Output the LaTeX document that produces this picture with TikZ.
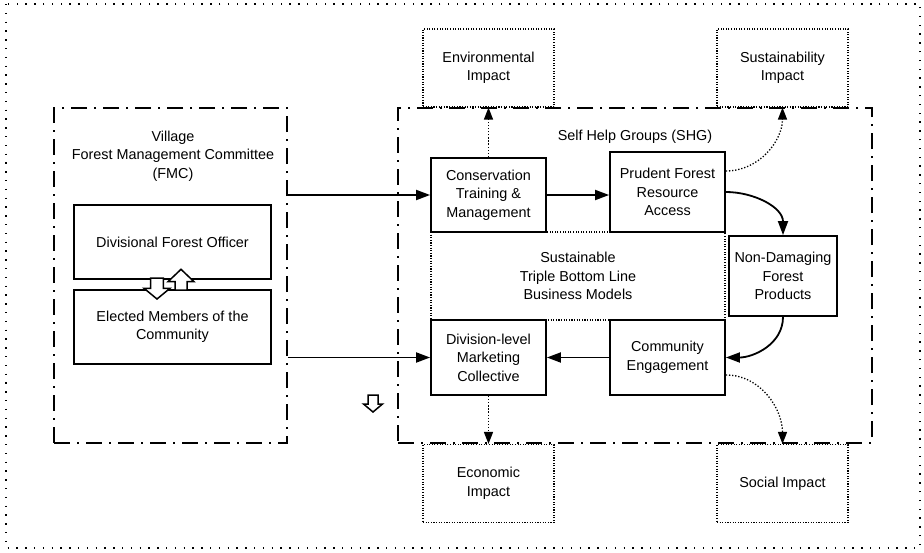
\documentclass[tikz,border=0pt]{standalone}
\usepackage{fontspec}
\setmainfont{Liberation Sans}
\usetikzlibrary{arrows.meta}
\begin{document}
\begin{tikzpicture}[x=1pt,y=-1pt,
 font=\fontsize{14.4}{18.5}\selectfont,
 box/.style={draw,line width=1.8pt,align=center,inner sep=0pt,fill=white},
 impact/.style={draw,line width=1.1pt,dash pattern=on 1.1pt off 1.5pt,align=center,inner sep=0pt,minimum width=131pt,minimum height=78pt},
 group/.style={draw,line width=1.5pt,dash pattern=on 16pt off 7pt on 2pt off 7pt,inner sep=0pt},
 arr/.style={line width=1.8pt,-{Triangle[length=14pt,width=10pt]}},
 darr/.style={line width=1.3pt,dash pattern=on 1.3pt off 1.8pt,-{Triangle[length=12pt,width=9pt]}},
 blockarrow/.style={draw,fill=white,line width=1.5pt,line join=miter}
]
\useasboundingbox (0,0) rectangle (924,552);
\draw[line width=1.4pt,dash pattern=on 1.4pt off 7.4pt] (6,4) rectangle (920,548);

% groups
\node[group,minimum width=233pt,minimum height=335pt] (fmc) at (170.5,275.5) {};
\node[group,minimum width=474pt,minimum height=335pt] (shg) at (635,275.5) {};
\node[align=center] (fmclabel) at (173,156) {Village\\Forest Management Committee\\(FMC)};
\node (shglabel) at (635,137) {Self Help Groups (SHG)};

% impacts
\node[impact] (env) at (488.5,68) {Environmental\\Impact};
\node[impact] (sus) at (782.5,68) {Sustainability\\Impact};
\node[impact] (eco) at (488.5,483.5) {Economic\\Impact};
\node[impact] (soc) at (782.5,483.5) {Social Impact};

% triple bottom line
\node[draw,line width=1.1pt,dash pattern=on 1.1pt off 1.5pt,align=center,minimum width=294pt,minimum height=88pt,inner sep=0pt] (tbl) at (578,276) {Sustainable\\Triple Bottom Line\\Business Models};

% process boxes
\node[box,minimum width=115pt,minimum height=74pt] (cons) at (488.5,195) {Conservation\\Training \&\\Management};
\node[box,minimum width=115pt,minimum height=80pt] (prud) at (667.5,192) {Prudent Forest\\Resource\\Access};
\node[box,minimum width=108pt,minimum height=80pt] (ndfp) at (783,276) {Non-Damaging\\Forest\\Products};
\node[box,minimum width=115pt,minimum height=75pt] (div) at (488.5,357.5) {Division-level\\Marketing\\Collective};
\node[box,minimum width=115pt,minimum height=75pt] (comm) at (667.5,357.5) {Community\\Engagement};

% FMC boxes
\node[box,minimum width=197pt,minimum height=74pt] (dfo) at (172.5,242) {Divisional Forest Officer};
\node[box,minimum width=197pt,minimum height=74pt] (elec) at (172.5,327) {Elected Members of the\\Community};

% block arrows
\draw[blockarrow] (150.7,278) -- (163.3,278) -- (163.3,288.3) -- (170,288.3) -- (157,299) -- (144,288.3) -- (150.7,288.3) -- cycle;
\draw[blockarrow] (175,290) -- (187,290) -- (187,281.7) -- (194,281.7) -- (181,269.3) -- (168,281.7) -- (175,281.7) -- cycle;
\draw[blockarrow] (368,395) -- (378,395) -- (378,404) -- (382.5,404) -- (373,412) -- (363.5,404) -- (368,404) -- cycle;

% connectors
\draw[arr] (fmc.east |- cons.west) -- (cons.west);
\draw[arr] (fmc.east |- div.west) -- (div.west);
\draw[arr] (cons.east) -- (cons.east -| prud.west);
\draw[arr] (prud.east) to[out=0,in=90] (ndfp.north);
\draw[arr] (ndfp.south) to[out=-90,in=0] (comm.east);
\draw[arr] (comm.west) -- (div.east);

\draw[darr] (cons.north) -- (env.south);
\draw[darr] ([yshift=21pt]prud.east) to[out=0,in=-90] (sus.south);
\draw[darr] (div.south) -- (eco.north);
\draw[darr] ([yshift=-17.5pt]comm.east) to[out=0,in=90] (soc.north);
\end{tikzpicture}
\end{document}
